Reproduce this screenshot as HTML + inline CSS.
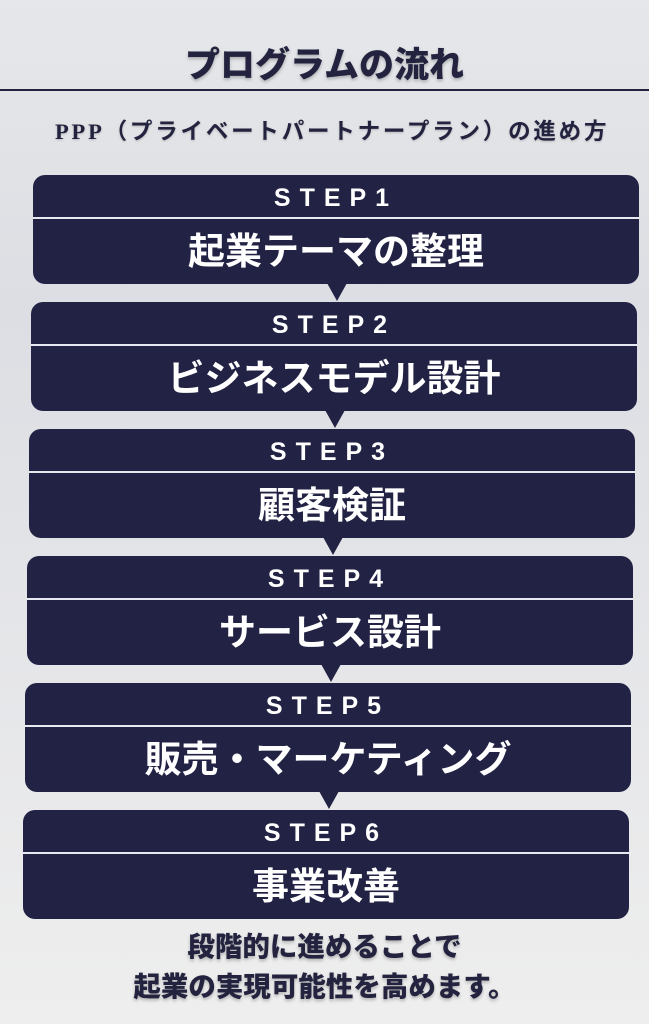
<!DOCTYPE html>
<html><head><meta charset="utf-8"><style>
*{margin:0;padding:0;box-sizing:border-box}
body{width:649px;height:1024px;overflow:hidden;position:relative;
background:linear-gradient(180deg,#e6e7ea 0%,#dcdee3 30%,#e4e5e8 60%,#eeeeee 100%);
font-family:"Liberation Sans","Noto Sans CJK JP",sans-serif;color:#23233f}
.title{position:absolute;top:44px;left:0;width:649px;text-align:center;font-size:35px;line-height:44px;font-weight:900;text-shadow:0 2px 3px rgba(0,0,0,.25)}
.line{position:absolute;top:89px;left:0;width:649px;height:2px;background:#23233f}
.sub{position:absolute;top:117px;left:55px;font-size:22.5px;letter-spacing:2.8px;line-height:30px;font-weight:bold;font-family:"Liberation Serif","Noto Sans CJK JP",serif;text-shadow:0 1px 2px rgba(0,0,0,.2);white-space:nowrap}
.box{position:absolute;height:109px;width:606px;background:#222244;border-radius:12px;color:#fff;text-align:center}
.box .s{height:44px;line-height:46px;font-size:25px;letter-spacing:9px;font-weight:bold;border-bottom:2px solid #e8e8f0}
.box .m{line-height:66px;font-size:37px;font-weight:bold}
.arr{position:absolute;width:0;height:0;border-left:10px solid transparent;border-right:10px solid transparent;border-top:18px solid #222244}
.foot{position:absolute;top:927px;left:0;width:649px;text-align:center;font-size:27.5px;font-weight:900;line-height:40px;text-shadow:0 2px 3px rgba(0,0,0,.25)}
</style></head><body>
<div class="title">プログラムの流れ</div>
<div class="line"></div>
<div class="sub">PPP（プライベートパートナープラン）の進め方</div>

<div class="box" style="left:33px;top:175px"><div class="s">STEP1</div><div class="m">起業テーマの整理</div></div>
<div class="arr" style="left:327px;top:283px"></div>
<div class="box" style="left:31px;top:302px"><div class="s">STEP2</div><div class="m">ビジネスモデル設計</div></div>
<div class="arr" style="left:325px;top:410px"></div>
<div class="box" style="left:29px;top:429px"><div class="s">STEP3</div><div class="m">顧客検証</div></div>
<div class="arr" style="left:323px;top:537px"></div>
<div class="box" style="left:27px;top:556px"><div class="s">STEP4</div><div class="m">サービス設計</div></div>
<div class="arr" style="left:321px;top:664px"></div>
<div class="box" style="left:25px;top:683px"><div class="s">STEP5</div><div class="m">販売・マーケティング</div></div>
<div class="arr" style="left:319px;top:791px"></div>
<div class="box" style="left:23px;top:810px"><div class="s">STEP6</div><div class="m">事業改善</div></div>

<div class="foot">段階的に進めることで<br>起業の実現可能性を高めます。</div>
</body></html>
